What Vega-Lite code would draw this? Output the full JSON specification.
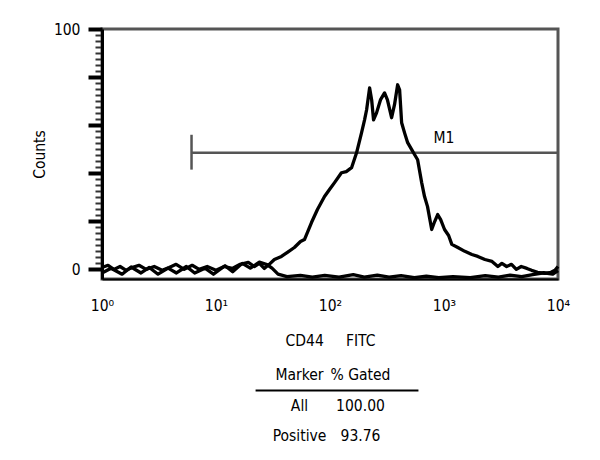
{
  "$schema": "https://vega.github.io/schema/vega-lite/v6.json",
  "padding": {"left": 30, "top": 20, "right": 5, "bottom": 5},
  "background": "white",
  "spacing": 81,
  "center": true,
  "bounds": "flush",
  "config": {
    "font": "DejaVu Sans Condensed, Liberation Sans, sans-serif",
    "view": {"stroke": null}
  },
  "vconcat": [
    {
      "width": 456,
      "height": 250,
      "view": {"stroke": "#555", "strokeWidth": 3},
      "resolve": {"scale": {"y": "shared"}, "axis": {"y": "independent"}},
      "layer": [
        {
          "data": {"values": [{"marker": "M1", "start": 6.1, "end": 10000, "level": 48.5}]},
          "mark": {"type": "rule", "color": "#555", "strokeWidth": 2.5},
          "encoding": {
            "x": {"field": "start", "type": "quantitative", "scale": {"type": "log", "domain": [1, 10000], "nice": false}},
            "x2": {"field": "end"},
            "y": {"field": "level", "type": "quantitative", "scale": {"domain": [-4, 100], "nice": false, "zero": false},
              "axis": {"orient": "left", "values": [2.5,5,7.5,10,12.5,15,17.5,22.5,25,27.5,30,32.5,35,37.5,42.5,45,47.5,50,52.5,55,57.5,62.5,65,67.5,70,72.5,75,77.5,82.5,85,87.5,90,92.5,95,97.5],
                "labels": false, "domain": false, "grid": false, "title": null, "tickSize": 7, "tickWidth": 2, "tickColor": "#333"}}
          }
        },
        {
          "data": {"values": [{"marker": "M1", "start": 6.1, "low": 41.5, "high": 56}]},
          "mark": {"type": "rule", "color": "#555", "strokeWidth": 2.5},
          "encoding": {
            "x": {"field": "start", "type": "quantitative"},
            "y": {"field": "low", "type": "quantitative", "axis": null},
            "y2": {"field": "high"}
          }
        },
        {
          "data": {"values": [{"marker": "M1", "labelAt": 1000, "labelLevel": 54.8}]},
          "mark": {"type": "text", "fontSize": 15.5, "color": "black", "baseline": "middle", "align": "center"},
          "encoding": {
            "x": {"field": "labelAt", "type": "quantitative"},
            "y": {"field": "labelLevel", "type": "quantitative", "axis": null},
            "text": {"field": "marker"}
          }
        },
        {
          "data": {"values": [
            {"series": "sample", "fl": 1, "count": 0.8},
            {"series": "sample", "fl": 1.13, "count": 1.7},
            {"series": "sample", "fl": 1.27, "count": 0},
            {"series": "sample", "fl": 1.44, "count": 1.2},
            {"series": "sample", "fl": 1.63, "count": -0.4},
            {"series": "sample", "fl": 1.83, "count": 0.8},
            {"series": "sample", "fl": 2.11, "count": 1.7},
            {"series": "sample", "fl": 2.44, "count": 0},
            {"series": "sample", "fl": 2.87, "count": 1.2},
            {"series": "sample", "fl": 3.37, "count": -0.4},
            {"series": "sample", "fl": 3.88, "count": 0.8},
            {"series": "sample", "fl": 4.47, "count": 2.1},
            {"series": "sample", "fl": 5.26, "count": 0},
            {"series": "sample", "fl": 6.18, "count": 1.7},
            {"series": "sample", "fl": 7.12, "count": 0},
            {"series": "sample", "fl": 8.37, "count": 1.2},
            {"series": "sample", "fl": 10.0, "count": -0.4},
            {"series": "sample", "fl": 11.8, "count": 1.2},
            {"series": "sample", "fl": 13.9, "count": 0.4},
            {"series": "sample", "fl": 16.3, "count": 2.1},
            {"series": "sample", "fl": 19.2, "count": 2.9},
            {"series": "sample", "fl": 21.7, "count": 1.2},
            {"series": "sample", "fl": 24.0, "count": 2.5},
            {"series": "sample", "fl": 26.5, "count": 0.4},
            {"series": "sample", "fl": 29.3, "count": 2.1},
            {"series": "sample", "fl": 32.5, "count": 4.1},
            {"series": "sample", "fl": 37.5, "count": 5.4},
            {"series": "sample", "fl": 42.3, "count": 7.1},
            {"series": "sample", "fl": 48.7, "count": 9.1},
            {"series": "sample", "fl": 55.1, "count": 11.6},
            {"series": "sample", "fl": 59.7, "count": 12.4},
            {"series": "sample", "fl": 68.8, "count": 19.5},
            {"series": "sample", "fl": 77.6, "count": 24.9},
            {"series": "sample", "fl": 89.5, "count": 30.3},
            {"series": "sample", "fl": 99, "count": 33.2},
            {"series": "sample", "fl": 109.6, "count": 36.1},
            {"series": "sample", "fl": 126, "count": 40.2},
            {"series": "sample", "fl": 139, "count": 40.7},
            {"series": "sample", "fl": 154.6, "count": 42.3},
            {"series": "sample", "fl": 171, "count": 48.5},
            {"series": "sample", "fl": 189, "count": 56.8},
            {"series": "sample", "fl": 201, "count": 62.2},
            {"series": "sample", "fl": 209.5, "count": 66.4},
            {"series": "sample", "fl": 222.5, "count": 75.5},
            {"series": "sample", "fl": 232, "count": 70.5},
            {"series": "sample", "fl": 241, "count": 62.2},
            {"series": "sample", "fl": 256, "count": 65.1},
            {"series": "sample", "fl": 277, "count": 70.5},
            {"series": "sample", "fl": 301, "count": 73.4},
            {"series": "sample", "fl": 319, "count": 70.5},
            {"series": "sample", "fl": 347, "count": 63.1},
            {"series": "sample", "fl": 368, "count": 68.5},
            {"series": "sample", "fl": 392, "count": 76.8},
            {"series": "sample", "fl": 408, "count": 74.7},
            {"series": "sample", "fl": 425, "count": 61.0},
            {"series": "sample", "fl": 451, "count": 56.8},
            {"series": "sample", "fl": 480, "count": 52.7},
            {"series": "sample", "fl": 521, "count": 49.8},
            {"series": "sample", "fl": 553, "count": 47.7},
            {"series": "sample", "fl": 587, "count": 45.6},
            {"series": "sample", "fl": 637, "count": 36.1},
            {"series": "sample", "fl": 675, "count": 30.3},
            {"series": "sample", "fl": 717, "count": 26.1},
            {"series": "sample", "fl": 780, "count": 16.6},
            {"series": "sample", "fl": 828, "count": 19.9},
            {"series": "sample", "fl": 880, "count": 22.8},
            {"series": "sample", "fl": 935, "count": 20.7},
            {"series": "sample", "fl": 1011, "count": 16.6},
            {"series": "sample", "fl": 1098, "count": 14.1},
            {"series": "sample", "fl": 1171, "count": 10.4},
            {"series": "sample", "fl": 1322, "count": 9.1},
            {"series": "sample", "fl": 1523, "count": 7.5},
            {"series": "sample", "fl": 1756, "count": 6.2},
            {"series": "sample", "fl": 1980, "count": 5.4},
            {"series": "sample", "fl": 2285, "count": 4.1},
            {"series": "sample", "fl": 2638, "count": 3.3},
            {"series": "sample", "fl": 2970, "count": 1.2},
            {"series": "sample", "fl": 3220, "count": 2.5},
            {"series": "sample", "fl": 3545, "count": 1.2},
            {"series": "sample", "fl": 3910, "count": 2.1},
            {"series": "sample", "fl": 4310, "count": 0},
            {"series": "sample", "fl": 4760, "count": 1.2},
            {"series": "sample", "fl": 5337, "count": 0.4},
            {"series": "sample", "fl": 5870, "count": -0.4},
            {"series": "sample", "fl": 6620, "count": -1.2},
            {"series": "sample", "fl": 7690, "count": -1.7},
            {"series": "sample", "fl": 8680, "count": -1.2},
            {"series": "sample", "fl": 9400, "count": -0.4},
            {"series": "sample", "fl": 10000, "count": 1.2},
            {"series": "control", "fl": 1, "count": -1.5},
            {"series": "control", "fl": 1.2, "count": 0.5},
            {"series": "control", "fl": 1.5, "count": -2},
            {"series": "control", "fl": 1.8, "count": 1.0},
            {"series": "control", "fl": 2.2, "count": -1.5},
            {"series": "control", "fl": 2.6, "count": 0.8},
            {"series": "control", "fl": 3.1, "count": -2},
            {"series": "control", "fl": 3.8, "count": 0.5},
            {"series": "control", "fl": 4.5, "count": -1.5},
            {"series": "control", "fl": 5.5, "count": 1.2},
            {"series": "control", "fl": 6.5, "count": -1.5},
            {"series": "control", "fl": 8, "count": 0.5},
            {"series": "control", "fl": 9.5, "count": -2},
            {"series": "control", "fl": 12, "count": 1.5},
            {"series": "control", "fl": 14, "count": -1},
            {"series": "control", "fl": 17, "count": 2.5},
            {"series": "control", "fl": 20, "count": 0.5},
            {"series": "control", "fl": 24, "count": 3.0},
            {"series": "control", "fl": 28, "count": 2.0},
            {"series": "control", "fl": 31, "count": 0.5},
            {"series": "control", "fl": 35, "count": -2.0},
            {"series": "control", "fl": 42, "count": -3},
            {"series": "control", "fl": 55, "count": -2.5},
            {"series": "control", "fl": 70, "count": -3.2},
            {"series": "control", "fl": 90, "count": -2.5},
            {"series": "control", "fl": 120, "count": -3.2},
            {"series": "control", "fl": 160, "count": -2.2},
            {"series": "control", "fl": 200, "count": -3.2},
            {"series": "control", "fl": 260, "count": -2.4},
            {"series": "control", "fl": 330, "count": -3.2},
            {"series": "control", "fl": 420, "count": -2.6},
            {"series": "control", "fl": 550, "count": -3.4},
            {"series": "control", "fl": 700, "count": -2.8},
            {"series": "control", "fl": 900, "count": -3.4},
            {"series": "control", "fl": 1200, "count": -3},
            {"series": "control", "fl": 1700, "count": -3.4},
            {"series": "control", "fl": 2300, "count": -2.6},
            {"series": "control", "fl": 3000, "count": -3.2},
            {"series": "control", "fl": 3800, "count": -2.4},
            {"series": "control", "fl": 4800, "count": -3.0},
            {"series": "control", "fl": 6000, "count": -2.2},
            {"series": "control", "fl": 7500, "count": -1.4},
            {"series": "control", "fl": 9000, "count": -2},
            {"series": "control", "fl": 10000, "count": -0.5}
          ]},
          "mark": {"type": "line", "color": "black", "strokeWidth": 3.3, "strokeJoin": "round"},
          "encoding": {
            "x": {"field": "fl", "type": "quantitative",
              "axis": {"values": [1, 10, 100, 1000, 10000], "labelExpr": "'10' + ['⁰','¹','²','³','⁴'][round(log(datum.value)/LN10)]",
                "ticks": false, "tickSize": 0, "labelPadding": 19, "labelFontSize": 15.5, "labelColor": "black", "labelFlush": false,
                "domainColor": "black", "domainWidth": 2, "grid": false,
                "title": "CD44\u00a0\u00a0\u00a0\u00a0\u00a0FITC", "titleFontSize": 15.5, "titleFontWeight": "normal", "titleColor": "black", "titlePadding": 20}},
            "y": {"field": "count", "type": "quantitative",
              "axis": {"orient": "left", "values": [0, 20, 40, 60, 80, 100], "labelExpr": "datum.value == 0 || datum.value == 100 ? datum.label : ''",
                "tickSize": 14, "tickWidth": 4, "tickColor": "black", "labelPadding": 8, "labelFontSize": 15.5, "labelColor": "black",
                "domainColor": "black", "domainWidth": 3, "grid": false,
                "title": "Counts", "titleFontSize": 15.5, "titleFontWeight": "normal", "titleColor": "black", "titlePadding": 6}},
            "detail": {"field": "series"}
          }
        }
      ]
    },
    {
      "width": 122,
      "height": 91.5,
      "layer": [
        {
          "data": {"values": [
            {"row": "header", "column": "Marker", "text": "Marker"},
            {"row": "header", "column": "% Gated", "text": "% Gated"},
            {"row": "All", "column": "Marker", "text": "All"},
            {"row": "All", "column": "% Gated", "text": "100.00"},
            {"row": "Positive", "column": "Marker", "text": "Positive"},
            {"row": "Positive", "column": "% Gated", "text": "93.76"}
          ]},
          "mark": {"type": "text", "fontSize": 15.5, "color": "black", "align": "center", "baseline": "middle"},
          "encoding": {
            "x": {"field": "column", "type": "nominal", "bandPosition": 0.5,
              "scale": {"type": "band", "domain": ["Marker", "% Gated"], "paddingInner": 0, "paddingOuter": 0}, "axis": null},
            "y": {"field": "row", "type": "nominal", "bandPosition": 0.5,
              "scale": {"type": "band", "domain": ["header", "All", "Positive"], "paddingInner": 0, "paddingOuter": 0}, "axis": null},
            "text": {"field": "text"}
          }
        },
        {
          "data": {"values": [{"from": "Marker", "to": "% Gated", "under": "All"}]},
          "mark": {"type": "rule", "color": "black", "strokeWidth": 2},
          "encoding": {
            "x": {"field": "from", "type": "nominal", "bandPosition": -0.22},
            "x2": {"field": "to", "bandPosition": 1.45},
            "y": {"field": "under", "type": "nominal", "bandPosition": 0}
          }
        }
      ]
    }
  ]
}
